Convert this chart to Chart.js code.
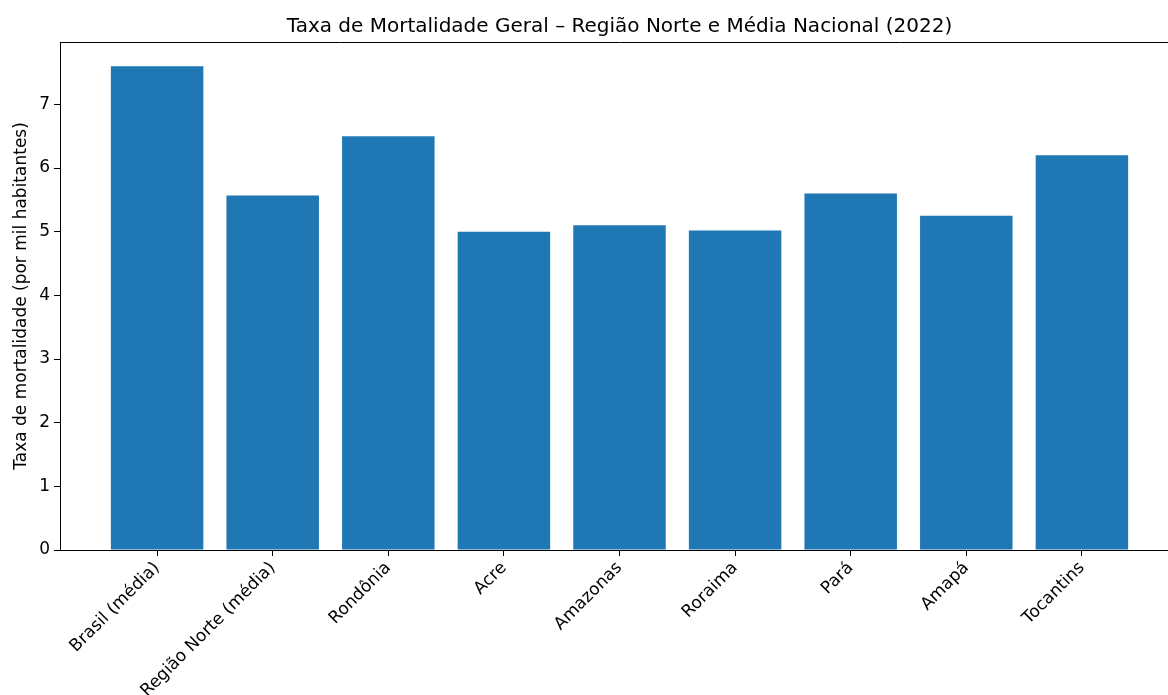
<!DOCTYPE html>
<html>
<head>
<meta charset="utf-8">
<script src="https://cdn.jsdelivr.net/npm/chart.js@4"></script>
<style>
  body { margin: 0; overflow: hidden; background: #fff; }
</style>
</head>
<body>
<canvas id="canvas" width="1200" height="695"></canvas>
<script>
var categories = ['Brasil (média)', 'Região Norte (média)', 'Rondônia', 'Acre', 'Amazonas', 'Roraima', 'Pará', 'Amapá', 'Tocantins'];
var rates = [7.6, 5.57, 6.5, 5.0, 5.1, 5.02, 5.6, 5.25, 6.2];
var yTicks = [0, 1, 2, 3, 4, 5, 6, 7];

var points = rates.map(function(v, i){
  return { x: i, y: v };
});

// top spine, matplotlib style
var frame = {
  id: 'frame',
  afterDraw: function(chart){
    var a = chart.chartArea, ctx = chart.ctx;
    ctx.save();
    ctx.strokeStyle = '#000';
    ctx.lineWidth = 1;
    ctx.beginPath();
    ctx.moveTo(a.left, a.top + 0.5);
    ctx.lineTo(a.right, a.top + 0.5);
    ctx.lineTo(a.right, a.bottom);
    ctx.stroke();
    ctx.restore();
  }
};

var ctx = document.getElementById('canvas').getContext('2d');
var myChart = new Chart(ctx, {
  type: 'bar',
  data: {
    datasets: [{
      label: 'Taxa',
      data: points,
      backgroundColor: '#1f77b4',
      borderWidth: 0,
      inflateAmount: 0,
      categoryPercentage: 1,
      barPercentage: 0.8
    }]
  },
  options: {
    responsive: false,
    animation: false,
    layout: { padding: { left: 0, right: 21, top: 0, bottom: 0 } },
    plugins: {
      legend: { display: false },
      tooltip: { enabled: false },
      title: {
        display: true,
        fullSize: false,
        text: 'Taxa de Mortalidade Geral – Região Norte e Média Nacional (2022)',
        color: '#000',
        font: { family: 'DejaVu Sans', size: 20, weight: 'normal' },
        padding: { top: 15, bottom: 3 }
      }
    },
    scales: {
      x: {
        type: 'linear',
        offset: false,
        min: -0.84,
        max: 8.84,
        afterFit: function(s){ s.height = 145; },
        border: { display: true, color: '#000', width: 1 },
        grid: { display: true, offset: false, drawOnChartArea: false, drawTicks: true, tickLength: 6, color: '#000' },
        ticks: {
          stepSize: 1,
          includeBounds: false,
          autoSkip: false,
          maxRotation: 45,
          minRotation: 45,
          padding: 2,
          color: '#000',
          font: { family: 'DejaVu Sans', size: 17 },
          callback: function(v){ return categories[v] || ''; }
        }
      },
      y: {
        min: 0,
        max: 7.98,
        afterFit: function(s){ s.width = 60; },
        afterBuildTicks: function(s){
          s.ticks = yTicks.map(function(t){ return { value: t }; });
        },
        border: { display: true, color: '#000', width: 1 },
        grid: { display: true, drawOnChartArea: false, drawTicks: true, tickLength: 6, color: '#000' },
        title: {
          display: true,
          text: 'Taxa de mortalidade (por mil habitantes)',
          color: '#000',
          font: { family: 'DejaVu Sans', size: 17 },
          padding: { top: 11, bottom: 0 }
        },
        ticks: {
          color: '#000',
          padding: 4,
          font: { family: 'DejaVu Sans', size: 17 }
        }
      }
    }
  },
  plugins: [frame]
});
</script>
</body>
</html>
